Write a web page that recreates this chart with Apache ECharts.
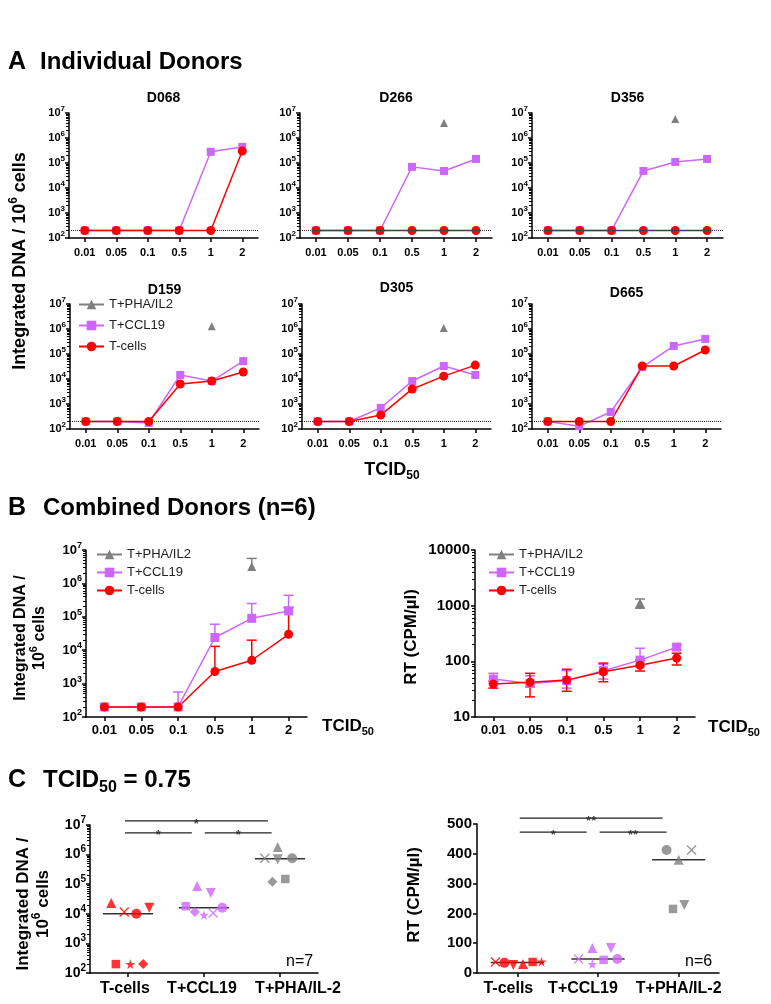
<!DOCTYPE html>
<html>
<head>
<meta charset="utf-8">
<title>Integrated DNA and RT in T cells</title>
<script src="https://cdn.jsdelivr.net/npm/echarts@6/dist/echarts.min.js"></script>
<style>
  html, body { margin: 0; padding: 0; background: #fff; }
  #chart { width: 771px; height: 1004px; }
</style>
</head>
<body>
<div id="chart"></div>
<script>
'use strict';

// ---------- data ----------
var doses = ['0.01', '0.05', '0.1', '0.5', '1', '2'];
var donors = ['D068', 'D266', 'D356', 'D159', 'D305', 'D665'];
var seriesNames = ['T+PHA/IL2', 'T+CCL19', 'T-cells'];
var detectionLimit = 200;

// A: integrated DNA / 10^6 cells, one row per donor
var aPha = [
	[null, null, null, null, null, null],
	[null, null, null, null, 4e6, null],
	[null, null, null, null, 5.8e6, null],
	[null, null, null, null, 1.3e6, null],
	[null, null, null, null, 1.1e6, null],
	[null, null, null, null, null, null]
];
var aCcl19 = [
	[200, 200, 200, 200, 2.8e5, 4.4e5],
	[200, 200, 200, 7e4, 4.8e4, 1.45e5],
	[200, 200, 200, 4.8e4, 1.1e5, 1.45e5],
	[200, 200, 175, 1.45e4, 8.3e3, 5.2e4],
	[200, 200, 700, 8.3e3, 3.3e4, 1.45e4],
	[200, 130, 480, 3e4, 2.1e5, 4e5]
];
var aTcells = [
	[200, 200, 200, 200, 200, 3e5],
	[200, 200, 200, 200, 200, 200],
	[200, 200, 200, 200, 200, 200],
	[200, 200, 200, 6.3e3, 8.3e3, 1.9e4],
	[200, 200, 360, 4e3, 1.3e4, 3.6e4],
	[200, 200, 200, 3.3e4, 3.3e4, 1.45e5]
];

// B left: integrated DNA, mean and upper error
var bDnaPha = [null, null, null, null, 3.2e6, null];
var bDnaPhaHigh = [null, null, null, null, 5.6e6, null];
var bDnaCcl19 = [200, 200, 200, 2.4e4, 9e4, 1.5e5];
var bDnaCcl19High = [null, null, 560, 6e4, 2.5e5, 4.4e5];
var bDnaTcells = [200, 200, 200, 2.3e3, 5e3, 3e4];
var bDnaTcellsHigh = [null, null, null, 1.3e4, 2e4, 1.9e5];

// B right: RT (CPM/ul), mean, low and high
var bRtPha = [null, null, null, null, 1100, null];
var bRtPhaLow = [null, null, null, null, 900, null];
var bRtPhaHigh = [null, null, null, null, 1320, null];
var bRtCcl19 = [48, 40, 45, 68, 105, 180];
var bRtCcl19Low = [40, 35, 33, 48, 80, 160];
var bRtCcl19High = [61, 55, 68, 88, 172, 195];
var bRtTcells = [39, 42, 46, 65, 85, 115];
var bRtTcellsLow = [33, 23, 29, 43, 67, 86];
var bRtTcellsHigh = [44, 61, 72, 93, 105, 140];

// C: TCID50 = 0.75, one value per donor
var cGroups = ['T-cells', 'T+CCL19', 'T+PHA/IL-2'];
var cDnaDonorMarks = ['triangle', 'rect', 'cross', 'star', 'circle', 'diamond', 'down'];
var cDnaTcells = [2.3e4, 200, 1.15e4, 200, 1e4, 200, 1.6e4];
var cDnaCcl19 = [8.7e4, 1.8e4, 1.07e4, 9.1e3, 1.6e4, 1.15e4, 5e4];
var cDnaPha = [1.8e6, 1.5e5, 7.6e5, null, 7.5e5, 1.2e5, 7e5];
var cDnaJitter = [
	[-0.22, -0.16, -0.05, 0.03, 0.11, 0.2, 0.28],
	[-0.09, -0.24, 0.12, 0, 0.24, -0.12, 0.09],
	[-0.03, 0.07, -0.2, 0, 0.16, -0.1, -0.03]
];
var cDnaSig = [[-0.04, 1.84, 1.37e7, '*'], [-0.04, 0.84, 5.4e6, '*'], [1.01, 1.89, 5.4e6, '*']];

var cRtDonorMarks = ['cross', 'circle', 'down', 'triangle', 'rect', 'star'];
var cRtTcells = [37, 34, 27, 30, 37, 38];
var cRtCcl19 = [47, 47, 84, 84, 44, 30];
var cRtPha = [413, 413, 228, 380, 215, null];
var cRtJitter = [
	[-0.27, -0.16, -0.05, 0.07, 0.19, 0.3],
	[-0.24, 0.24, 0.16, -0.07, 0.07, -0.07],
	[0.16, -0.15, 0.07, 0, -0.07, 0]
];
var cRtSig = [[0.03, 1.8, 520, '**'], [0.03, 0.86, 473, '*'], [1.02, 1.85, 473, '**']];

// ---------- style ----------
var FONT = '"Liberation Sans", Arial, Helvetica, sans-serif';
var RED = '#ff0000';
var PURPLE = '#cc66ff';
var GRAY = '#808080';
var INK = '#000';
var CROSS = 'path://M0,0.1L0.1,0L0.5,0.4L0.9,0L1,0.1L0.6,0.5L1,0.9L0.9,1L0.5,0.6L0.1,1L0,0.9L0.4,0.5Z';
var STAR = 'path://M50,0L61,35L98,35L68,57L79,91L50,70L21,91L32,57L2,35L39,35Z';

var aBoxes = [
	{left: 69, top: 113, width: 189, height: 125},
	{left: 300, top: 113, width: 192, height: 125},
	{left: 532, top: 113, width: 191, height: 125},
	{left: 70, top: 304, width: 189, height: 125},
	{left: 302, top: 304, width: 189, height: 125},
	{left: 532, top: 304, width: 189, height: 125}
];
var aTitleY = [98, 98, 98, 290, 288, 293];
// horizontal nudge (px) of the group labels under panel C
var cDnaLabelShift = [-3, -2, 18];
var cRtLabelShift = [-9, -15, 0];

var grids = [], xAxes = [], yAxes = [], series = [], graphics = [];

function supRich(size) {
	return {fontFamily: FONT, fontWeight: 'bold', fontSize: size, color: INK, padding: [0, 0, size, 0]};
}
function subRich(size) {
	return {fontFamily: FONT, fontWeight: 'bold', fontSize: size, color: INK, padding: [size, 0, 0, 0]};
}

function logLabel(size) {
	return {
		color: INK, fontFamily: FONT, fontWeight: 'bold', fontSize: size, margin: 4,
		formatter: function (v) { return '10{s|' + Math.round(Math.log(v) / Math.LN10) + '}'; },
		rich: {s: supRich(Math.round(size * 0.72))}
	};
}

function addGrid(box) {
	grids.push({left: box.left, top: box.top, width: box.width, height: box.height});
	return grids.length - 1;
}

function catX(gi, cats, size, margin, shifts) {
	var lab = {color: INK, fontFamily: FONT, fontWeight: 'bold', fontSize: size, margin: margin, interval: 0};
	if (shifts) {
		var rich = {};
		shifts.forEach(function (s, k) {
			rich['p' + k] = {fontFamily: FONT, fontWeight: 'bold', fontSize: size, color: INK,
				padding: s > 0 ? [0, 0, 0, 2 * s] : [0, -2 * s, 0, 0]};
		});
		lab.rich = rich;
		lab.formatter = function (v, k) { return '{p' + k + '|' + v + '}'; };
	}
	xAxes.push({
		type: 'category', gridIndex: gi, data: cats, boundaryGap: true,
		axisLine: {show: true, onZero: false, lineStyle: {color: INK, width: 1.5}},
		axisTick: {show: true, alignWithLabel: true, length: 4, lineStyle: {color: INK, width: 1.5}},
		axisLabel: lab,
		splitLine: {show: false}
	});
	return xAxes.length - 1;
}

function hiddenX(gi) {
	xAxes.push({type: 'value', gridIndex: gi, min: -0.5, max: 2.5, show: false,
		axisLine: {onZero: false}, splitLine: {show: false}});
	return xAxes.length - 1;
}

function logY(gi, min, max, label) {
	yAxes.push({
		type: 'log', logBase: 10, gridIndex: gi, min: min, max: max,
		axisLine: {show: true, onZero: false, lineStyle: {color: INK, width: 1.5}},
		axisTick: {show: true, length: 4, lineStyle: {color: INK, width: 1.5}},
		minorTick: {show: true, splitNumber: 9, length: 3, lineStyle: {color: INK, width: 1}},
		splitLine: {show: false}, minorSplitLine: {show: false},
		axisLabel: label
	});
	return yAxes.length - 1;
}

function lineSeries(name, xi, yi, data, color, symbol, size) {
	return {
		name: name, type: 'line', xAxisIndex: xi, yAxisIndex: yi, data: data,
		symbol: symbol, symbolSize: size, showSymbol: true,
		itemStyle: {color: color}, lineStyle: {color: color, width: 1.5},
		emphasis: {disabled: true}, silent: true
	};
}

function errorBars(xi, yi, lows, highs, color, capLow) {
	var data = [];
	highs.forEach(function (h, k) { if (h != null) data.push([k, lows[k], h]); });
	return {
		type: 'custom', xAxisIndex: xi, yAxisIndex: yi, data: data, silent: true,
		encode: {x: 0, y: [1, 2]},
		renderItem: function (params, api) {
			var lo = api.coord([api.value(0), api.value(1)]);
			var hi = api.coord([api.value(0), api.value(2)]);
			var w = 5;
			var st = {stroke: color, lineWidth: 1.5};
			var kids = [
				{type: 'line', shape: {x1: hi[0], y1: hi[1], x2: lo[0], y2: lo[1]}, style: st},
				{type: 'line', shape: {x1: hi[0] - w, y1: hi[1], x2: hi[0] + w, y2: hi[1]}, style: st}
			];
			if (capLow) {
				kids.push({type: 'line', shape: {x1: lo[0] - w, y1: lo[1], x2: lo[0] + w, y2: lo[1]}, style: st});
			}
			return {type: 'group', children: kids};
		}
	};
}

function markOf(name, base) {
	if (name === 'down') return {symbol: 'triangle', symbolRotate: 180, symbolSize: base};
	if (name === 'cross') return {symbol: CROSS, symbolSize: base};
	if (name === 'star') return {symbol: STAR, symbolSize: base};
	if (name === 'rect') return {symbol: 'rect', symbolSize: base * 0.85};
	return {symbol: name, symbolSize: base};
}

function median(values) {
	var v = values.filter(function (x) { return x != null; }).sort(function (a, b) { return a - b; });
	var m = Math.floor(v.length / 2);
	return v.length % 2 ? v[m] : (v[m - 1] + v[m]) / 2;
}

function addGroup(xi, yi, g, values, jitter, marks, color) {
	var data = [];
	values.forEach(function (v, k) {
		if (v == null) return;
		var m = markOf(marks[k], 10);
		data.push({value: [g + jitter[k], v], symbol: m.symbol, symbolSize: m.symbolSize, symbolRotate: m.symbolRotate || 0});
	});
	var med = median(values);
	series.push({
		type: 'line', xAxisIndex: xi, yAxisIndex: yi, symbol: 'none', silent: true, z: 2,
		data: [[g - 0.33, med], [g + 0.33, med]], lineStyle: {color: '#333', width: 1.5}
	});
	series.push({
		type: 'scatter', xAxisIndex: xi, yAxisIndex: yi, clip: false, silent: true, z: 3,
		itemStyle: {color: color}, data: data
	});
}

function addSig(xi, yi, sig) {
	sig.forEach(function (s) {
		series.push({
			type: 'line', xAxisIndex: xi, yAxisIndex: yi, clip: false, symbol: 'none', silent: true,
			data: [[s[0], s[2]], [s[1], s[2]]], lineStyle: {color: '#222', width: 1.2}
		});
		series.push({
			type: 'scatter', xAxisIndex: xi, yAxisIndex: yi, clip: false, silent: true, symbolSize: 0.1,
			itemStyle: {color: 'rgba(0,0,0,0)'}, data: [[(s[0] + s[1]) / 2, s[2]]],
			label: {show: true, position: 'inside', formatter: s[3], fontSize: 13, fontWeight: 'bold',
				color: '#222', offset: [0, 3], fontFamily: FONT}
		});
	});
}

function label(x, y, str, opt) {
	opt = opt || {};
	graphics.push({
		type: 'text', x: x, y: y, rotation: opt.rotate ? Math.PI / 2 : 0, silent: true,
		style: {
			text: str, fill: INK, fontFamily: FONT, fontSize: opt.size || 14,
			fontWeight: opt.weight || 'bold', align: opt.align || 'left', verticalAlign: 'middle',
			lineHeight: opt.lineHeight, rich: opt.rich
		}
	});
}

function legendAt(left, top, gap) {
	return {
		left: left, top: top, orient: 'vertical', padding: 0, itemGap: gap,
		itemWidth: 25, itemHeight: 12, selectedMode: false, data: seriesNames,
		textStyle: {fontFamily: FONT, fontSize: 13, color: '#222'}
	};
}

// ---------- A: individual donors ----------
donors.forEach(function (name, i) {
	var box = aBoxes[i];
	var gi = addGrid(box);
	var xi = catX(gi, doses, 11, 9);
	var yi = logY(gi, 100, 1e7, logLabel(11));
	series.push(lineSeries(seriesNames[0], xi, yi, aPha[i], GRAY, 'triangle', 8));
	series.push(lineSeries(seriesNames[1], xi, yi, aCcl19[i], PURPLE, 'rect', 8));
	var t = lineSeries(seriesNames[2], xi, yi, aTcells[i], RED, 'circle', 9);
	t.markLine = {
		silent: true, symbol: ['none', 'none'], label: {show: false},
		lineStyle: {type: 'dotted', color: '#333', width: 1}, data: [{yAxis: detectionLimit}]
	};
	series.push(t);
	label(box.left + box.width / 2, aTitleY[i], name, {size: 14, align: 'center'});
});

// ---------- B: combined donors ----------
(function () {
	var gi = addGrid({left: 86, top: 550, width: 221, height: 167});
	var xi = catX(gi, doses, 13, 7);
	var yi = logY(gi, 100, 1e7, logLabel(13));
	series.push(errorBars(xi, yi, bDnaPha, bDnaPhaHigh, GRAY, false));
	series.push(lineSeries(seriesNames[0], xi, yi, bDnaPha, GRAY, 'triangle', 9));
	series.push(errorBars(xi, yi, bDnaCcl19, bDnaCcl19High, PURPLE, false));
	series.push(lineSeries(seriesNames[1], xi, yi, bDnaCcl19, PURPLE, 'rect', 9));
	series.push(errorBars(xi, yi, bDnaTcells, bDnaTcellsHigh, RED, false));
	series.push(lineSeries(seriesNames[2], xi, yi, bDnaTcells, RED, 'circle', 9));

	var gj = addGrid({left: 475, top: 550, width: 220, height: 167});
	var xj = catX(gj, doses, 13, 7);
	var yj = logY(gj, 10, 10000, {
		color: INK, fontFamily: FONT, fontWeight: 'bold', fontSize: 15, margin: 5,
		formatter: function (v) { return String(Math.round(v)); }
	});
	series.push(errorBars(xj, yj, bRtPhaLow, bRtPhaHigh, GRAY, true));
	series.push(lineSeries(seriesNames[0], xj, yj, bRtPha, GRAY, 'triangle', 10));
	series.push(errorBars(xj, yj, bRtCcl19Low, bRtCcl19High, PURPLE, true));
	series.push(lineSeries(seriesNames[1], xj, yj, bRtCcl19, PURPLE, 'rect', 9));
	series.push(errorBars(xj, yj, bRtTcellsLow, bRtTcellsHigh, RED, true));
	series.push(lineSeries(seriesNames[2], xj, yj, bRtTcells, RED, 'circle', 9));
})();

// ---------- C: TCID50 = 0.75 ----------
(function () {
	var gi = addGrid({left: 90, top: 825, width: 228, height: 148});
	catX(gi, cGroups, 16, 8, cDnaLabelShift);
	var hx = hiddenX(gi);
	var yi = logY(gi, 100, 1e7, logLabel(14));
	addGroup(hx, yi, 0, cDnaTcells, cDnaJitter[0], cDnaDonorMarks, RED);
	addGroup(hx, yi, 1, cDnaCcl19, cDnaJitter[1], cDnaDonorMarks, PURPLE);
	addGroup(hx, yi, 2, cDnaPha, cDnaJitter[2], cDnaDonorMarks, GRAY);
	addSig(hx, yi, cDnaSig);

	var gj = addGrid({left: 477, top: 824, width: 242, height: 149});
	catX(gj, cGroups, 16, 8, cRtLabelShift);
	var hj = hiddenX(gj);
	yAxes.push({
		type: 'value', gridIndex: gj, min: 0, max: 500, interval: 100,
		axisLine: {show: true, onZero: false, lineStyle: {color: INK, width: 1.5}},
		axisTick: {show: true, length: 4, lineStyle: {color: INK, width: 1.5}},
		splitLine: {show: false},
		axisLabel: {color: INK, fontFamily: FONT, fontWeight: 'bold', fontSize: 15, margin: 5}
	});
	var yj = yAxes.length - 1;
	addGroup(hj, yj, 0, cRtTcells, cRtJitter[0], cRtDonorMarks, RED);
	addGroup(hj, yj, 1, cRtCcl19, cRtJitter[1], cRtDonorMarks, PURPLE);
	addGroup(hj, yj, 2, cRtPha, cRtJitter[2], cRtDonorMarks, GRAY);
	addSig(hj, yj, cRtSig);
})();

// ---------- text ----------
var tcid = function (size) { return {d: subRich(Math.round(size * 0.65))}; };
var cells = function (size) { return {s: supRich(Math.round(size * 0.68))}; };

label(8, 62, 'A', {size: 25});
label(40, 62, 'Individual Donors', {size: 24});
label(8, 508, 'B', {size: 25});
label(43, 508, 'Combined Donors (n=6)', {size: 24});
label(8, 780, 'C', {size: 25});
label(43, 780, 'TCID{d|50} = 0.75', {size: 24, rich: tcid(24)});

label(20, 261, 'Integrated DNA / 10{s|6} cells', {size: 18, rotate: true, align: 'center', rich: cells(18)});
label(392, 470, 'TCID{d|50}', {size: 18, align: 'center', rich: tcid(18)});

label(30, 638, 'Integrated DNA /\n10{s|6} cells', {size: 16, rotate: true, align: 'center', lineHeight: 19, rich: cells(16)});
label(322, 726, 'TCID{d|50}', {size: 17, rich: tcid(17)});
label(411, 637, 'RT (CPM/µl)', {size: 17, rotate: true, align: 'center'});
label(708, 727, 'TCID{d|50}', {size: 17, rich: tcid(17)});

label(33, 904, 'Integrated DNA /\n10{s|6} cells', {size: 17, rotate: true, align: 'center', lineHeight: 20, rich: cells(17)});
label(414, 895, 'RT (CPM/µl)', {size: 17, rotate: true, align: 'center'});
label(286, 962, 'n=7', {size: 16, weight: 'normal'});
label(685, 962, 'n=6', {size: 16, weight: 'normal'});

var chart = echarts.init(document.getElementById('chart'));
chart.setOption({
	animation: false,
	backgroundColor: '#fff',
	grid: grids,
	xAxis: xAxes,
	yAxis: yAxes,
	legend: [legendAt(78, 298, 8), legendAt(96, 548, 5), legendAt(488, 548, 5)],
	series: series,
	graphic: graphics
});
</script>
</body>
</html>
